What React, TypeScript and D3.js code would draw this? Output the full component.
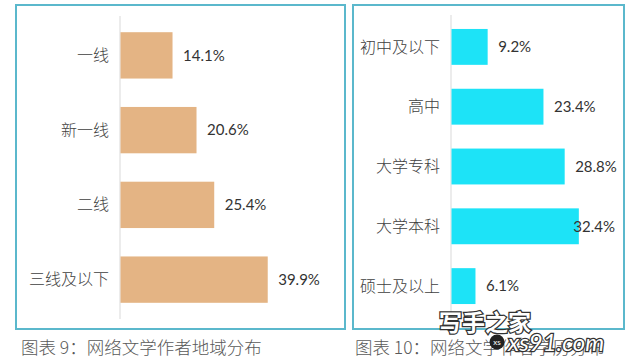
import React from 'react';
import * as d3 from 'd3';

const regionCats = ['一线', '新一线', '二线', '三线及以下'];
const regionVals = [14.1, 20.6, 25.4, 39.9];
const eduCats = ['初中及以下', '高中', '大学专科', '大学本科', '硕士及以上'];
const eduVals = [9.2, 23.4, 28.8, 32.4, 6.1];
const captions = ['图表 9：网络文学作者地域分布', '图表 10：网络文学作者学历分布'];

const W = 640, H = 360;
const borderColor = '#5bb8cc';
const cjk = '"Noto Sans CJK SC", sans-serif';
const num = 'Lato, "Open Sans", sans-serif';

type PanelProps = {
  cats: string[]; vals: number[]; color: string;
  box: [number, number, number, number];
  axisX: number; pxPerUnit: number; top: number; bottom: number;
  pad: number; labelMax: number;
};

const Panel = ({ cats, vals, color, box, axisX, pxPerUnit, top, bottom, pad, labelMax }: PanelProps) => {
  const y = d3.scaleBand<string>().domain(cats).range([top, bottom]).paddingInner(pad).paddingOuter(pad / 2);
  const x = d3.scaleLinear().domain([0, 1]).range([axisX, axisX + pxPerUnit]);
  return (
    <g>
      <rect x={box[0]} y={box[1]} width={box[2] - box[0]} height={box[3] - box[1]}
        fill="#fff" stroke={borderColor} strokeWidth={2} />
      <line x1={axisX} x2={axisX} y1={top - 2} y2={bottom + 2} stroke="#d9d9d9" strokeWidth={1} />
      {cats.map((c, i) => {
        const by = y(c)!;
        const bw = x(vals[i]) - axisX;
        const cy = by + y.bandwidth() / 2;
        const end = x(vals[i]);
        const tooFar = end + 10 + 40 > labelMax;
        return (
          <g key={c}>
            <rect x={axisX + 0.5} y={by} width={bw} height={y.bandwidth()} fill={color} />
            <text x={axisX - 11} y={cy} dy="0.35em" textAnchor="end" fontFamily={cjk}
              fontSize={16} fontWeight={300} fill="#404040">{c}</text>
            <text x={tooFar ? labelMax : end + 11} y={cy} dy="0.35em" textAnchor={tooFar ? 'end' : 'start'}
              fontFamily={num} fontSize={15} fill="#333">{vals[i].toFixed(1)}%</text>
          </g>
        );
      })}
    </g>
  );
};

export default function App() {
  return (
    <svg width={W} height={H} style={{ position: 'absolute', left: 0, top: 0, background: '#fff' }}>
      <Panel cats={regionCats} vals={regionVals} color="#e4b484" box={[16, 5, 345, 329]}
        axisX={120} pxPerUnit={3.69} top={18} bottom={317} pad={0.38} labelMax={340} />
      <Panel cats={eduCats} vals={eduVals} color="#1de3f7" box={[353, 5, 624, 329]}
        axisX={451} pxPerUnit={3.93} top={17} bottom={316} pad={0.4} labelMax={615} />
      <text x={21} y={354} fontFamily={cjk} fontSize={17.5} fill="#595959" fontWeight={300}>{captions[0]}</text>
      <text x={355} y={354} fontFamily={cjk} fontSize={17.5} fill="#595959" fontWeight={300}>{captions[1]}</text>
      {/* watermark */}
      <g>
        <text x={439} y={331} fontFamily={cjk} fontSize={23} fontWeight={700} fill="#fff"
          stroke="#333" strokeWidth={2.5} paintOrder="stroke">写手之家</text>
        <circle cx={497} cy={342} r={7.5} fill="#222" />
        <text x={497} y={345} textAnchor="middle" fontFamily={num} fontSize={8} fill="#fff">xs</text>
        <text x={508} y={351} fontFamily={num} fontSize={24} fontStyle="italic" fill="#fff"
          stroke="#333" strokeWidth={2.5} paintOrder="stroke">xs91.com</text>
      </g>
    </svg>
  );
}
